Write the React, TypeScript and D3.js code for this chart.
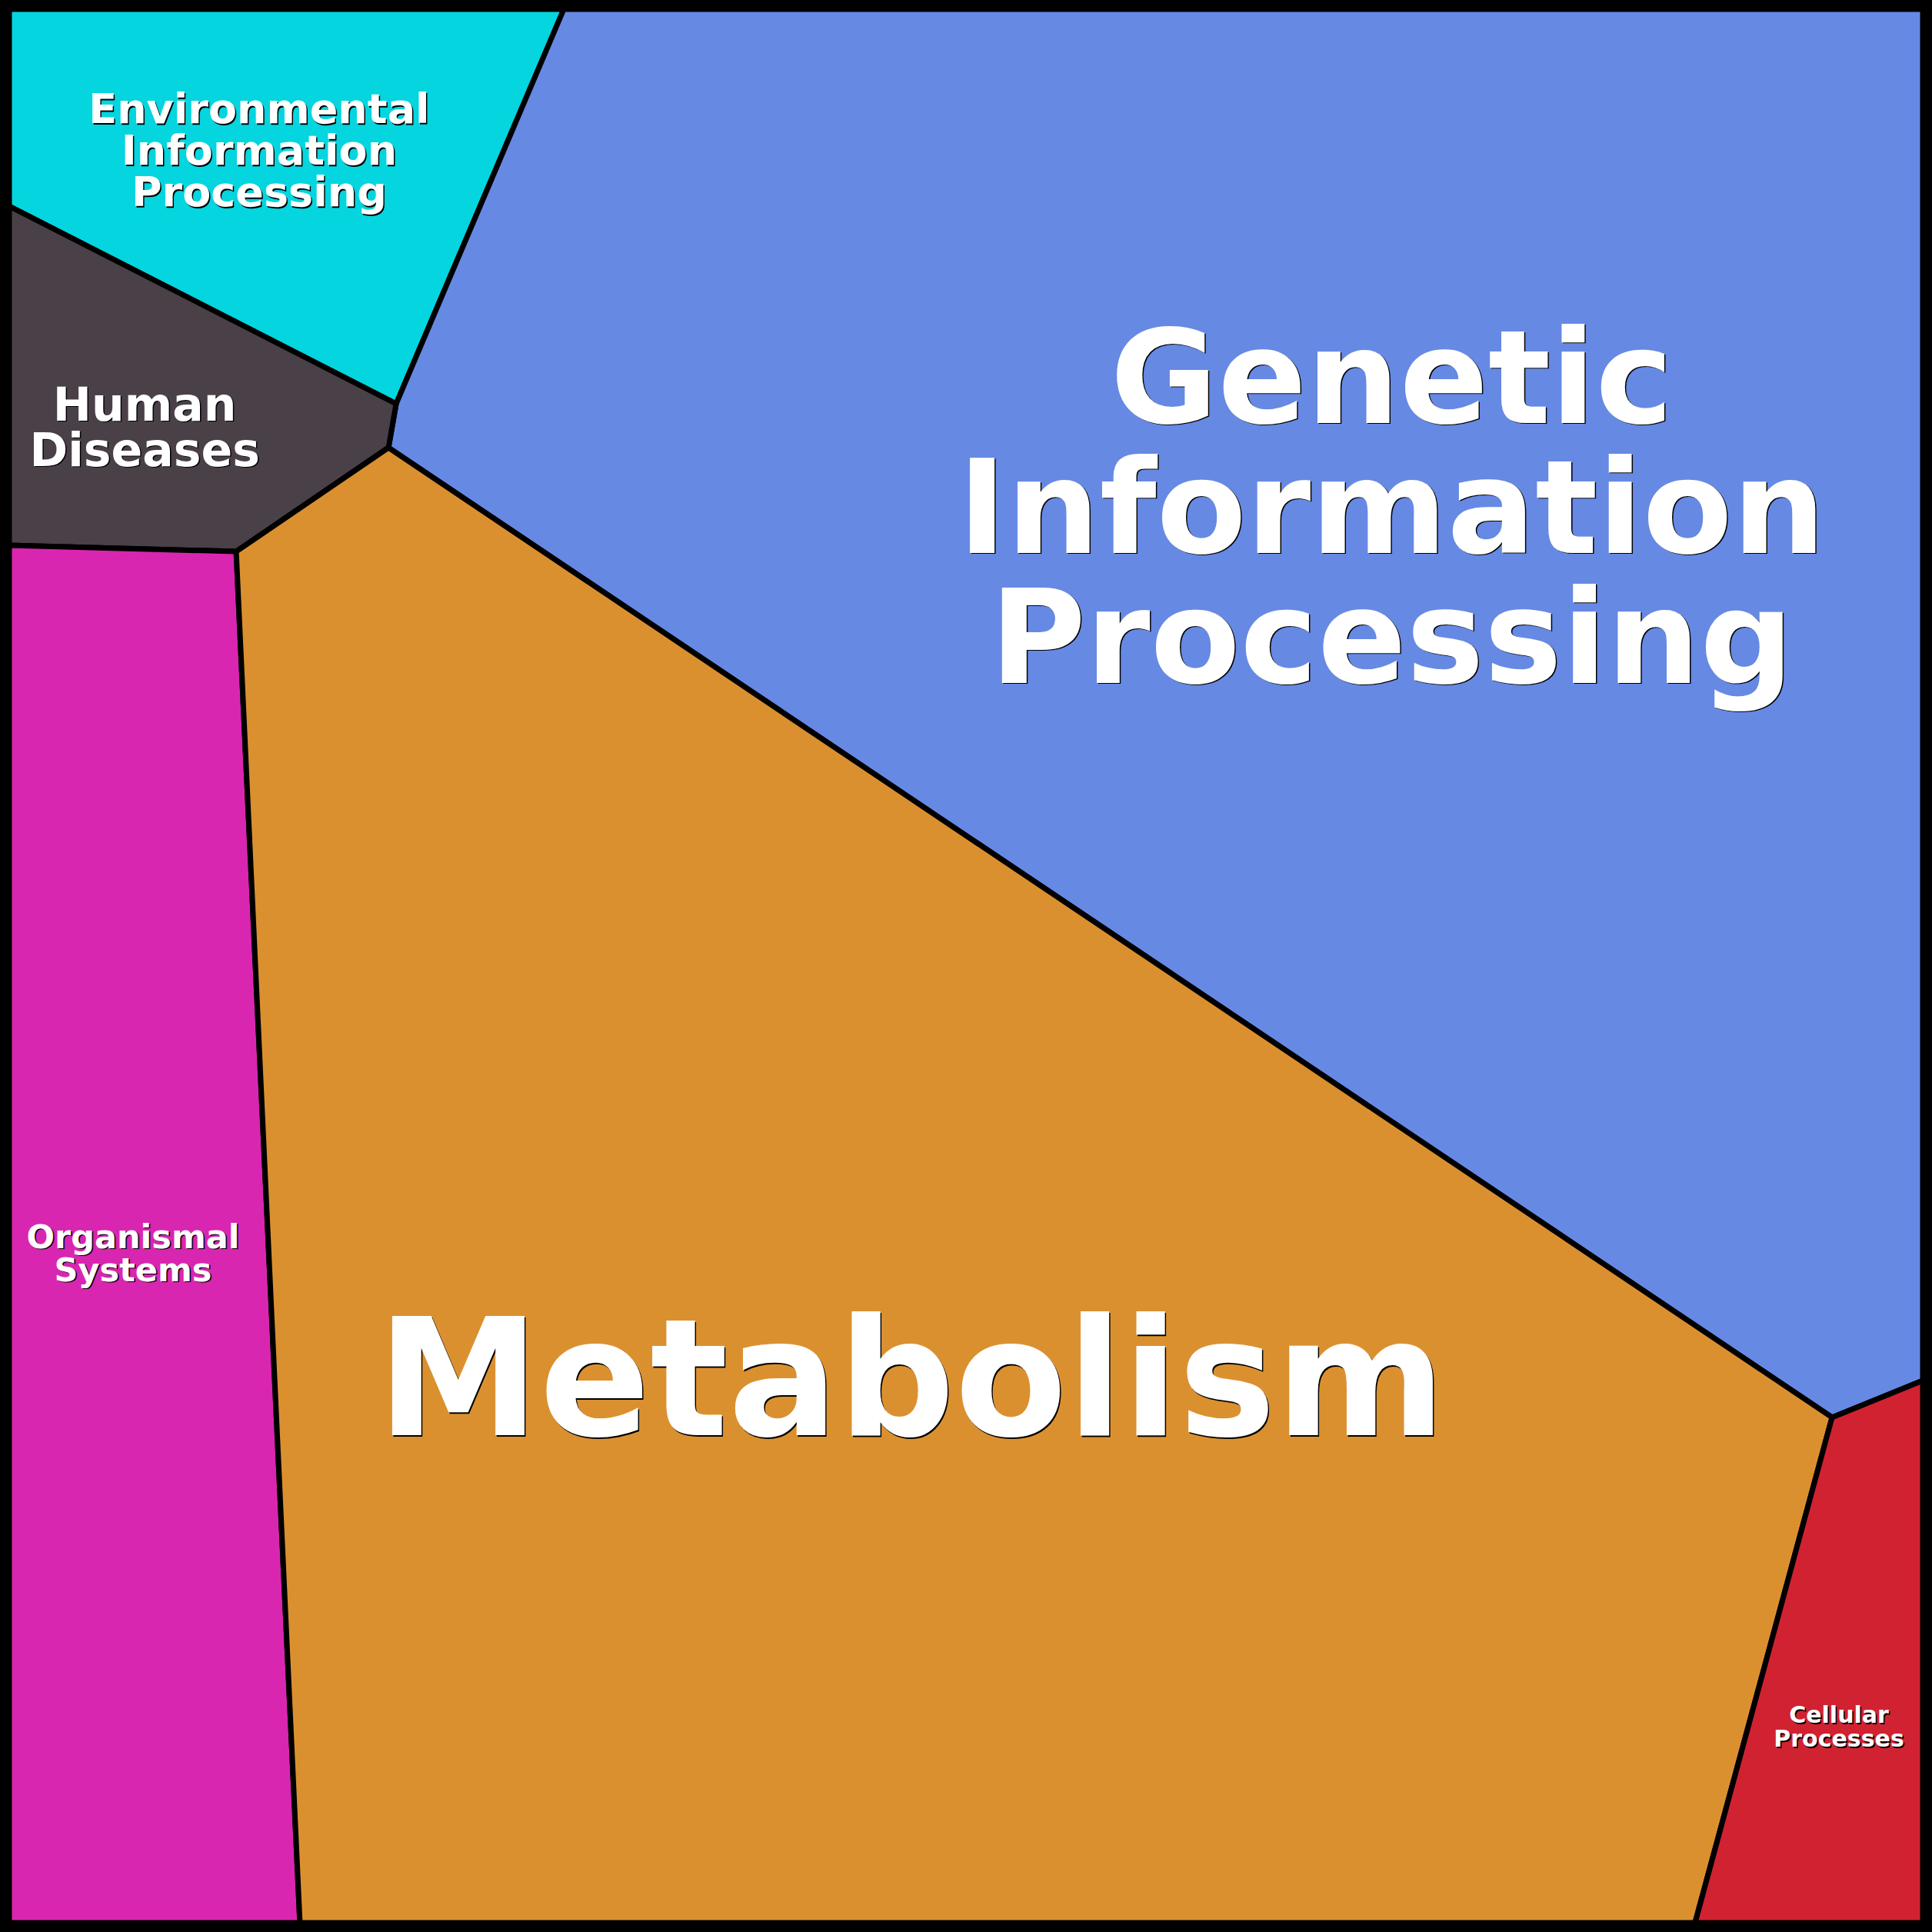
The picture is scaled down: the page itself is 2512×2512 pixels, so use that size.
import React from "react";
import * as d3 from "d3";

// Voronoi treemap vertices, in layout units (0..100 on both axes)
const vertexNames = ["TL", "TR", "BR", "BL", "A", "B", "C", "D", "E", "F", "G", "H", "I", "J"];
const vertexX = [0, 100, 100, 0, 28.98, 20.22, 19.82, 11.86, 0, 0, 15.19, 95.26, 100, 88.1];
const vertexY = [0, 0, 100, 100, 0, 20.62, 22.91, 28.34, 10.29, 28.01, 100, 73.59, 71.66, 100];

const categories = [
  "Environmental Information Processing",
  "Genetic Information Processing",
  "Human Diseases",
  "Organismal Systems",
  "Metabolism",
  "Cellular Processes",
];
const cellVertices = [
  ["TL", "A", "B", "E"],
  ["A", "TR", "I", "H", "C", "B"],
  ["E", "B", "C", "D", "F"],
  ["F", "D", "G", "BL"],
  ["D", "C", "H", "J", "G"],
  ["H", "I", "BR", "J"],
];
const cellColors = ["#04D5DF", "#6689E4", "#4A4048", "#D926B0", "#DB9030", "#D12232"];

const labelLines = [
  ["Environmental", "Information", "Processing"],
  ["Genetic", "Information", "Processing"],
  ["Human", "Diseases"],
  ["Organismal", "Systems"],
  ["Metabolism"],
  ["Cellular", "Processes"],
];
const labelX = [13.06, 72.25, 7.08, 6.47, 47.15, 95.62];
const labelY = [5.95, 21.62, 21.5, 64.75, 74.52, 89.55];
const labelFont = [54, 170, 60, 43, 212, 30];
const labelLead = [54, 169, 59, 43, 212, 31];

const SIZE = 2512;
const INSET = 12;

export default function App() {
  const x = d3.scaleLinear().domain([0, 100]).range([INSET, SIZE - INSET]);
  const y = d3.scaleLinear().domain([0, 100]).range([INSET, SIZE - INSET]);
  const idx = (n: string) => vertexNames.indexOf(n);
  const line = d3.line<string>()
    .x((n) => x(vertexX[idx(n)]))
    .y((n) => y(vertexY[idx(n)]))
    .curve(d3.curveLinearClosed);

  return (
    <div style={{ position: "fixed", left: 0, top: 0 }}>
      <svg width={SIZE} height={SIZE} style={{ display: "block" }}>
        <rect x={0} y={0} width={SIZE} height={SIZE} fill="#000" />
        {categories.map((c, i) => (
          <path
            key={c}
            d={line(cellVertices[i]) || ""}
            fill={cellColors[i]}
            stroke="#000"
            strokeWidth={7}
            strokeLinejoin="round"
          />
        ))}
        <rect x={5} y={5} width={SIZE - 10} height={SIZE - 10} fill="none" stroke="#000" strokeWidth={11} />
        {categories.map((c, i) => (
          <g key={c + "-label"} fontFamily="DejaVu Sans" fontWeight="bold" fontSize={labelFont[i]} textAnchor="middle">
            {labelLines[i].map((t, j) => (
              <g key={j}>
                <text
                  x={x(labelX[i]) + 1.5}
                  y={y(labelY[i]) + j * labelLead[i] + 1.5}
                  fill="#000"
                >
                  {t}
                </text>
                <text x={x(labelX[i])} y={y(labelY[i]) + j * labelLead[i]} fill="#fff">
                  {t}
                </text>
              </g>
            ))}
          </g>
        ))}
      </svg>
    </div>
  );
}
